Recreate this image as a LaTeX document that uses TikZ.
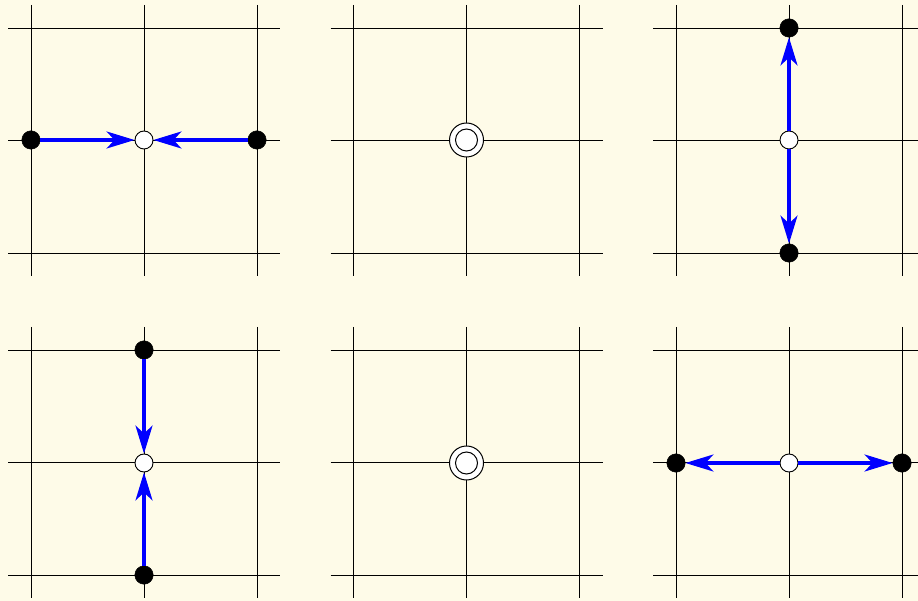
\documentclass[tikz,border=0pt]{standalone}
\usetikzlibrary{arrows.meta}
\definecolor{bg}{HTML}{FEFBE8}
\tikzset{
  gridline/.style={black, line width=0.9pt},
  fulldot/.style={circle, fill=black, draw=black, inner sep=0pt, minimum size=18.5pt},
  opendot/.style={circle, fill=white, draw=black, line width=0.9pt, inner sep=0pt, minimum size=18pt},
  arr/.style={blue, line width=3.2pt, -{Stealth[length=28pt, width=17pt, inset=8pt]}},
  centre/.style={circle, fill=white, draw=black, line width=1pt, inner sep=0pt, minimum size=34pt},
  inner/.style={circle, draw=black, line width=1pt, inner sep=0pt, minimum size=22pt},
}
\newcommand{\mygrid}[2]{%
  \foreach \k in {0,1,2} {
    \draw[gridline] (#1-23, #2+\k*112.5) -- (#1+249, #2+\k*112.5);
    \draw[gridline] (#1+\k*113, #2-23) -- (#1+\k*113, #2+248);
  }}
\begin{document}
\begin{tikzpicture}[x=1pt, y=-1pt]
\fill[bg] (0,0) rectangle (918,601);
\useasboundingbox (0,0) rectangle (918,601);
\begin{scope}
\clip (0,0) rectangle (918,601);
\mygrid{31}{28}
\mygrid{353.5}{28}
\mygrid{676}{28}
\mygrid{31}{350}
\mygrid{353.5}{350}
\mygrid{676}{350}
\end{scope}
% panel 1
\node[opendot] (c1) at (144,140) {};
\node[fulldot] (l1) at (31,140) {};
\node[fulldot] (r1) at (257,140) {};
\draw[arr] (l1) -- (c1);
\draw[arr] (r1) -- (c1);
% panel 2
\node[centre] (c2) at (466.5,140) {};
\node[inner] (i2) at (466.5,140) {};
% panel 3
\node[opendot] (c3) at (789,140) {};
\node[fulldot] (t3) at (789,28) {};
\node[fulldot] (b3) at (789,253) {};
\draw[arr] (c3) -- (t3);
\draw[arr] (c3) -- (b3);
% panel 4
\node[opendot] (c4) at (144,463) {};
\node[fulldot] (t4) at (144,350) {};
\node[fulldot] (b4) at (144,575) {};
\draw[arr] (t4) -- (c4);
\draw[arr] (b4) -- (c4);
% panel 5
\node[centre] (c5) at (466.5,463) {};
\node[inner] (i5) at (466.5,463) {};
% panel 6
\node[opendot] (c6) at (789,463) {};
\node[fulldot] (l6) at (676,463) {};
\node[fulldot] (r6) at (902,463) {};
\draw[arr] (c6) -- (l6);
\draw[arr] (c6) -- (r6);
\end{tikzpicture}
\end{document}
